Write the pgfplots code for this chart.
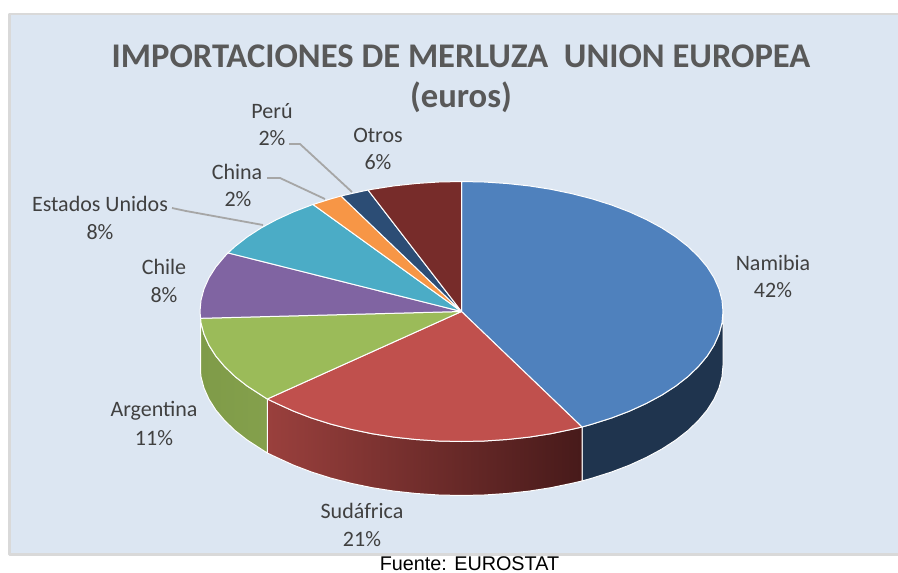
\documentclass[border=0pt]{standalone}
\usepackage{pgfplots}
\pgfplotsset{compat=1.18}
\usepackage{fontspec}
\setmainfont{Carlito}
\newfontfamily\arialf{Liberation Sans}
\definecolor{panel}{HTML}{DCE6F2}
\definecolor{panelb}{HTML}{D9D9D9}
\definecolor{cnam}{HTML}{4F81BD}
\definecolor{csud}{HTML}{C0504D}
\definecolor{carg}{HTML}{9BBB59}
\definecolor{cchi}{HTML}{8064A2}
\definecolor{cusa}{HTML}{4BACC6}
\definecolor{cchn}{HTML}{F79646}
\definecolor{cper}{HTML}{2C4D75}
\definecolor{cotr}{HTML}{772C2A}
\definecolor{wnam}{HTML}{1F344E}
\definecolor{wsudl}{HTML}{9A403D}
\definecolor{wsudr}{HTML}{471A1A}
\definecolor{wargl}{HTML}{7F9B48}
\definecolor{wargr}{HTML}{84A04C}
\definecolor{txt}{HTML}{404040}
\definecolor{ttl}{HTML}{595959}
\definecolor{lead}{HTML}{A6A6A6}
\tikzset{lbl/.style={font=\fontsize{22}{26}\selectfont, text=txt, anchor=center, inner sep=0pt}}
\begin{document}
\begin{tikzpicture}
\begin{axis}[
  scale only axis, width=898pt, height=573pt,
  xmin=0, xmax=898, ymin=0, ymax=573, y dir=reverse,
  hide axis,
  every axis plot/.append style={no markers, line join=round},
]
% page and panel
\addplot[fill=white, draw=none] coordinates {(0,0)(898,0)(898,573)(0,573)} --cycle;
\addplot[fill=panel, draw=panelb, line width=2.5pt] coordinates {(9.5,14)(905,14)(905,554.5)(9.5,554.5)} --cycle;

% side walls
\addplot[fill=wnam, draw=white, line width=1pt] coordinates {
 (723,311.5)(722,322.8)(719,334.1)(714.1,345.1)(707.2,356)(698.5,366.4)(688,376.5)(675.7,386.1)(661.8,395.1)(646.4,403.4)(629.6,411.1)(611.5,418)(592.25,424.1)(582,427)
 (582,481)(592.25,478.1)(611.5,472)(629.6,465.1)(646.4,457.4)(661.8,449.1)(675.7,440.1)(688,430.5)(698.5,420.4)(707.2,410)(714.1,399.1)(719,388.1)(722,376.8)(723,365.5)} --cycle;
\addplot[left color=wsudl, right color=wsudr, draw=white, line width=1pt] coordinates {
 (582,427)(572,429.3)(550.9,433.7)(529.2,437.1)(506.9,439.5)(484.3,441)(461.5,441.5)(438.7,441)(416.1,439.5)(393.8,437.1)(372.1,433.7)(351,429.3)(330.75,424.1)(311.5,418)(293.4,411.1)(276.6,403.4)(267.3,399)
 (267.3,453)(276.6,457.4)(293.4,465.1)(311.5,472)(330.75,478.1)(351,483.3)(372.1,487.7)(393.8,491.1)(416.1,493.5)(438.7,495)(461.5,495.5)(484.3,495)(506.9,493.5)(529.2,491.1)(550.9,487.7)(572,483.3)(582,481)} --cycle;
\addplot[left color=wargl, right color=wargr, draw=white, line width=1pt] coordinates {
 (267.3,399)(261.2,395.1)(247.3,386.1)(235,376.5)(224.5,366.4)(215.8,356)(208.9,345.1)(204,334.1)(201,322.8)(200.6,318.3)
 (200.6,372.3)(201,376.8)(204,388.1)(208.9,399.1)(215.8,410)(224.5,420.4)(235,430.5)(247.3,440.1)(261.2,449.1)(267.3,453)} --cycle;

% top surface
\addplot[fill=cnam, draw=white, line width=1pt] coordinates {
 (461.5,311.5)(461.5,181.5)(484.3,182)(506.9,183.5)(529.2,185.9)(550.9,189.3)(572,193.7)(592.25,198.9)(611.5,205)(629.6,211.9)(646.4,219.6)(661.8,227.9)(675.7,236.9)(688,246.5)(698.5,256.6)(707.2,267)(714.1,277.9)(719,288.9)(722,300.2)(723,311.5)
 (722,322.8)(719,334.1)(714.1,345.1)(707.2,356)(698.5,366.4)(688,376.5)(675.7,386.1)(661.8,395.1)(646.4,403.4)(629.6,411.1)(611.5,418)(592.25,424.1)(582,427)} --cycle;
\addplot[fill=csud, draw=white, line width=1pt] coordinates {
 (461.5,311.5)(582,427)(572,429.3)(550.9,433.7)(529.2,437.1)(506.9,439.5)(484.3,441)(461.5,441.5)(438.7,441)(416.1,439.5)(393.8,437.1)(372.1,433.7)(351,429.3)(330.75,424.1)(311.5,418)(293.4,411.1)(276.6,403.4)(267.3,399)} --cycle;
\addplot[fill=carg, draw=white, line width=1pt] coordinates {
 (461.5,311.5)(267.3,399)(261.2,395.1)(247.3,386.1)(235,376.5)(224.5,366.4)(215.8,356)(208.9,345.1)(204,334.1)(201,322.8)(200.6,318.3)} --cycle;
\addplot[fill=cchi, draw=white, line width=1pt] coordinates {
 (461.5,311.5)(200.6,318.3)(200,311.5)(201,300.2)(204,288.9)(208.9,277.9)(215.8,267)(224.5,256.6)(228,252.9)} --cycle;
\addplot[fill=cusa, draw=white, line width=1pt] coordinates {
 (461.5,311.5)(228,252.9)(235,246.5)(247.3,236.9)(261.2,227.9)(276.6,219.6)(293.4,211.9)(311.5,205)(313,204.5)} --cycle;
\addplot[fill=cchn, draw=white, line width=1pt] coordinates {
 (461.5,311.5)(313,204.5)(330.75,198.9)(341,196)} --cycle;
\addplot[fill=cper, draw=white, line width=1pt] coordinates {
 (461.5,311.5)(341,196)(351,193.7)(368,190)} --cycle;
\addplot[fill=cotr, draw=white, line width=1pt] coordinates {
 (461.5,311.5)(368,190)(372.1,189.3)(393.8,185.9)(416.1,183.5)(438.7,182)(461.5,181.5)} --cycle;

% leader lines
\addplot[draw=lead, line width=1.8pt] coordinates {(289,144)(300,144)(352,192)};
\addplot[draw=lead, line width=1.8pt] coordinates {(267,178)(280,178)(325,199)};
\addplot[draw=lead, line width=1.8pt] coordinates {(172,208)(186,211)(263,225)};

% title
\node[font=\fontsize{34.6}{40}\selectfont\bfseries, text=ttl, inner sep=0pt] at (axis cs:461,56) {IMPORTACIONES DE MERLUZA\ \ UNION EUROPEA};
\node[font=\fontsize{34.6}{40}\selectfont\bfseries, text=ttl, inner sep=0pt] at (axis cs:461,97) {(euros)};

% labels
\node[lbl] at (axis cs:773,263) {Namibia};
\node[lbl] at (axis cs:773,290) {42\%};
\node[lbl] at (axis cs:362,511) {Sudáfrica};
\node[lbl] at (axis cs:362,539) {21\%};
\node[lbl] at (axis cs:154,411) {Argentina};
\node[lbl] at (axis cs:154,438) {11\%};
\node[lbl] at (axis cs:164,267) {Chile};
\node[lbl] at (axis cs:164,295) {8\%};
\node[lbl] at (axis cs:100,204) {Estados Unidos};
\node[lbl] at (axis cs:100,232) {8\%};
\node[lbl] at (axis cs:237,172) {China};
\node[lbl] at (axis cs:238,199) {2\%};
\node[lbl] at (axis cs:272,111) {Perú};
\node[lbl] at (axis cs:272,138) {2\%};
\node[lbl] at (axis cs:378,135) {Otros};
\node[lbl] at (axis cs:378,162) {6\%};

\node[font=\arialf\fontsize{19.8}{22}\selectfont, text=black, inner sep=0pt] at (axis cs:469.5,563.5) {Fuente: EUROSTAT};
\end{axis}
\end{tikzpicture}
\end{document}
